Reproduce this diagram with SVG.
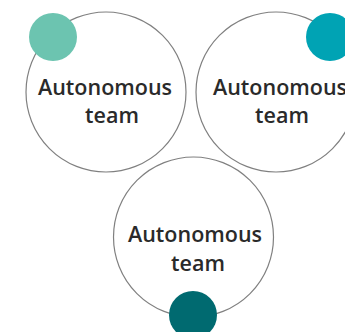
<svg xmlns="http://www.w3.org/2000/svg" width="345" height="332" viewBox="0 0 345 332">
<style>
.big{fill:#fff;stroke:#808080;stroke-width:1.2}
.t{font-family:"Open Sans","Noto Sans",sans-serif;font-size:21.5px;font-weight:600;fill:#2a2a2a;text-anchor:middle}
</style>
<rect width="345" height="332" fill="#fff"/>
<g id="connectors"></g>
<g id="team1">
<circle class="big" cx="106" cy="92" r="80"/>
<circle cx="53" cy="37" r="24" fill="#6cc4b0"/>
<text class="t" x="105" y="95">Autonomous</text>
<text class="t" x="112" y="123">team</text>
</g>
<g id="team2">
<circle class="big" cx="276" cy="92" r="80"/>
<circle cx="330" cy="37" r="24" fill="#00a3b4"/>
<text class="t" x="280" y="95">Autonomous</text>
<text class="t" x="282" y="123">team</text>
</g>
<g id="team3">
<circle class="big" cx="193.5" cy="237" r="80"/>
<circle cx="193" cy="315" r="24" fill="#006a70"/>
<text class="t" x="195" y="242">Autonomous</text>
<text class="t" x="198" y="271">team</text>
</g>
</svg>
